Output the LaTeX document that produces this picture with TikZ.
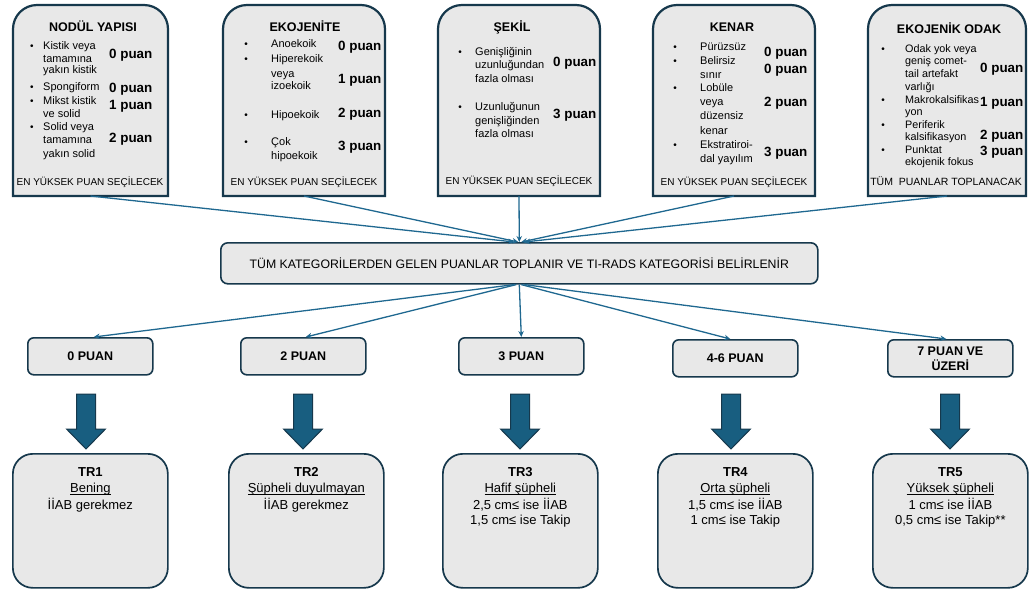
\documentclass[tikz,border=0pt]{standalone}
\usepackage{fontspec}
\setmainfont{Liberation Sans}
\usetikzlibrary{arrows.meta,calc}
\definecolor{boxfill}{RGB}{232,232,232}
\definecolor{edge}{RGB}{22,56,76}
\definecolor{link}{RGB}{31,104,144}
\definecolor{blk}{RGB}{24,94,128}
\newcommand\roundtopbox[1]{\draw[topbox] (#1.south west) -- ([yshift=-24pt]#1.north west) arc[start angle=180,end angle=90,radius=24pt] -- ([xshift=-24pt]#1.north east) arc[start angle=90,end angle=0,radius=24pt] -- (#1.south east) -- cycle;}
\newcommand\myul[1]{\setbox0\hbox{#1}\rlap{\rule[-1.9pt]{\wd0}{0.7pt}}\box0}
\begin{document}
\begin{tikzpicture}[x=1pt,y=-1pt,
  frame/.style={draw=none,inner sep=0pt,outer sep=0pt,anchor=north west},
  topbox/.style={draw=edge,fill=boxfill,line width=2.2pt},
  title/.style={font=\fontsize{12.5}{14}\selectfont\bfseries,inner sep=0pt,anchor=mid},
  body/.style={font=\fontsize{11}{13}\selectfont,inner sep=0pt,anchor=mid west},
  bodyS/.style={font=\fontsize{10.8}{12}\selectfont,inner sep=0pt,anchor=mid west},
  bul/.style={font=\fontsize{10}{13}\selectfont,inner sep=0pt,anchor=mid},
  pts/.style={font=\fontsize{13.4}{15}\selectfont\bfseries,inner sep=0pt,anchor=mid west},
  foot/.style={font=\fontsize{10}{12}\selectfont,inner sep=0pt,anchor=mid},
  bar/.style={draw=edge,fill=boxfill,line width=1.6pt,rounded corners=7pt,inner sep=0pt,anchor=north west,font=\fontsize{12.3}{14}\selectfont},
  puan/.style={draw=edge,fill=boxfill,line width=1.6pt,rounded corners=6pt,inner sep=0pt,anchor=north west,font=\fontsize{12.5}{15}\selectfont\bfseries,align=center,minimum width=125pt,minimum height=37pt},
  trbox/.style={draw=edge,fill=boxfill,line width=1.7pt,rounded corners=20pt,inner sep=0pt,anchor=north west,minimum width=155pt,minimum height=134pt},
  trtext/.style={font=\fontsize{13}{15}\selectfont,inner sep=0pt,anchor=mid},
  trhead/.style={font=\fontsize{13}{15}\selectfont\bfseries,inner sep=0pt,anchor=mid},
  conn/.style={draw=link,line width=1.3pt,-{Stealth[length=6pt,width=5.5pt]}},
  blkarrow/.style={fill=blk,draw=edge,line width=1pt},
]
\useasboundingbox (0,0) rectangle (1029,590);

% ---------- top boxes ----------
\node[frame,minimum width=155pt,minimum height=191pt] (b1) at (13,5) {};
\node[frame,minimum width=162pt,minimum height=191pt] (b2) at (223,5) {};
\node[frame,minimum width=162pt,minimum height=191pt] (b3) at (438,5) {};
\node[frame,minimum width=162pt,minimum height=191pt] (b4) at (653,5) {};
\node[frame,minimum width=158pt,minimum height=191pt] (b5) at (868,5) {};
\roundtopbox{b1}
\roundtopbox{b2}
\roundtopbox{b3}
\roundtopbox{b4}
\roundtopbox{b5}

% box 1
\node[title] (b1t) at (93,29) {NODÜL YAPISI};
\foreach \yy/\txt [count=\i] in {47/Kistik veya,60/tamamına,71/yakın kistik,88/Spongiform,102/Mikst kistik,115/ve solid,128/Solid veya,141/tamamına,155/yakın solid}
  \node[body] (b1l\i) at (43,\yy) {\txt};
\foreach \yy [count=\i] in {47,88,102,128}
  \node[bul] (b1d\i) at (32,\yy) {•};
\foreach \yy/\txt [count=\i] in {56/0,90/0,107/1,140/2}
  \node[pts] (b1p\i) at (109,\yy) {\txt{} puan};
\node[foot] (b1f) at (90,183) {EN YÜKSEK PUAN SEÇİLECEK};

% box 2
\node[title] (b2t) at (305,29) {EKOJENİTE};
\foreach \yy/\txt [count=\i] in {45/Anoekoik,60/Hiperekoik,75/veya,87/izoekoik,116/Hipoekoik,143/Çok,157/hipoekoik}
  \node[body] (b2l\i) at (271,\yy) {\txt};
\foreach \yy [count=\i] in {45,60,116,143}
  \node[bul] (b2d\i) at (246,\yy) {•};
\foreach \yy/\txt [count=\i] in {48/0,81/1,115/2,148/3}
  \node[pts] (b2p\i) at (338,\yy) {\txt{} puan};
\node[foot] (b2f) at (304,183) {EN YÜKSEK PUAN SEÇİLECEK};

% box 3
\node[title] (b3t) at (512,29) {ŞEKİL};
\foreach \yy/\txt [count=\i] in {53/Genişliğinin,66/uzunluğundan,80/fazla olması,108/Uzunluğunun,122/genişliğinden,135/fazla olması}
  \node[body] (b3l\i) at (475,\yy) {\txt};
\foreach \yy [count=\i] in {53,108}
  \node[bul] (b3d\i) at (460,\yy) {•};
\foreach \yy/\txt [count=\i] in {64/0,116/3}
  \node[pts] (b3p\i) at (553,\yy) {\txt{} puan};
\node[foot] (b3f) at (519,182) {EN YÜKSEK PUAN SEÇİLECEK};

% box 4
\node[title] (b4t) at (732,29) {KENAR};
\foreach \yy/\txt [count=\i] in {48/Pürüzsüz,62/Belirsiz,76/sınır,89/Lobüle,103/veya,117/düzensiz,132/kenar,146/Ekstratiroi-,160/dal yayılım}
  \node[body] (b4l\i) at (700,\yy) {\txt};
\foreach \yy [count=\i] in {48,62,89,146}
  \node[bul] (b4d\i) at (675,\yy) {•};
\foreach \yy/\txt [count=\i] in {54/0,71/0,104/2,154/3}
  \node[pts] (b4p\i) at (764,\yy) {\txt{} puan};
\node[foot] (b4f) at (734,183) {EN YÜKSEK PUAN SEÇİLECEK};

% box 5
\node[title] (b5t) at (949,31) {EKOJENİK ODAK};
\foreach \yy/\txt [count=\i] in {50/Odak yok veya,62/geniş comet-,75/tail artefakt,88/varlığı,101/Makrokalsifikas,113/yon,126/Periferik,138/kalsifikasyon,151/Punktat,163/ekojenik fokus}
  \node[bodyS] (b5l\i) at (905,\yy) {\txt};
\foreach \yy [count=\i] in {50,101,126,151}
  \node[bul] (b5d\i) at (883,\yy) {•};
\foreach \yy/\txt [count=\i] in {70/0,104/1,137/2,153/3}
  \node[pts] (b5p\i) at (980,\yy) {\txt{} puan};
\node[foot,font=\fontsize{10.5}{12}\selectfont] (b5f) at (946,183) {TÜM\ \ PUANLAR TOPLANACAK};

% ---------- middle bar ----------
\node[bar,minimum width=597pt,minimum height=41pt] (bar) at (220,242) {TÜM KATEGORİLERDEN GELEN PUANLAR TOPLANIR VE TI-RADS KATEGORİSİ BELİRLENİR};

\draw[conn] (b1.south) -- ([xshift=-5pt]bar.north);
\draw[conn] (b2.south) -- ([xshift=-1pt]bar.north);
\draw[conn] (b3.south) -- (bar.north);
\draw[conn] (b4.south) -- ([xshift=2pt]bar.north);
\draw[conn] (b5.south) -- ([xshift=5pt]bar.north);

% ---------- score boxes ----------
\node[puan] (p0) at (27,337) {0 PUAN};
\node[puan] (p2) at (240,337) {2 PUAN};
\node[puan] (p3) at (458,337) {3 PUAN};
\node[puan] (p46) at (672,339) {4-6 PUAN};
\node[puan] (p7) at (887,339) {7 PUAN VE\\ÜZERİ};

\draw[conn] ([xshift=-5pt]bar.south) -- ([xshift=3.5pt]p0.north);
\draw[conn] ([xshift=-3pt]bar.south) -- ([xshift=2.5pt]p2.north);
\draw[conn] (bar.south) -- (p3.north);
\draw[conn] ([xshift=2pt]bar.south) -- ([xshift=-5pt]p46.north);
\draw[conn] ([xshift=5pt]bar.south) -- ([xshift=-4pt]p7.north);

% ---------- block arrows ----------
\coordinate (a1) at (86,394);
\coordinate (a2) at (303,394);
\coordinate (a3) at (520,394);
\coordinate (a4) at (731,394);
\coordinate (a5) at (950,394);
\foreach \a in {a1,a2,a3,a4,a5}
  \draw[blkarrow] ($(\a)+(-9.5,0)$) -- ++(19,0) -- ++(0,35) -- ++(10,0) -- ++(-19.5,20) -- ++(-19.5,-20) -- ++(10,0) -- cycle;

% ---------- TR boxes ----------
\node[trbox] (tr1) at (12,453) {};
\node[trbox] (tr2) at (228,453) {};
\node[trbox] (tr3) at (442,453) {};
\node[trbox] (tr4) at (657,453) {};
\node[trbox] (tr5) at (872,453) {};

\node[trhead] (tr1a) at ($(tr1.north)+(0,21)$) {TR1};
\node[trtext] (tr1b) at ($(tr1.north)+(0,37)$) {\myul{Bening}};
\node[trtext] (tr1c) at ($(tr1.north)+(0,54)$) {İİAB gerekmez};

\node[trhead] (tr2a) at ($(tr2.north)+(0,21)$) {TR2};
\node[trtext] (tr2b) at ($(tr2.north)+(0,37)$) {\myul{Şüpheli duyulmayan}};
\node[trtext] (tr2c) at ($(tr2.north)+(0,54)$) {İİAB gerekmez};

\node[trhead] (tr3a) at ($(tr3.north)+(0,21)$) {TR3};
\node[trtext] (tr3b) at ($(tr3.north)+(0,37)$) {\myul{Hafif şüpheli}};
\node[trtext] (tr3c) at ($(tr3.north)+(0,54)$) {2,5 cm≤ ise İİAB};
\node[trtext] (tr3d) at ($(tr3.north)+(0,69)$) {1,5 cm≤ ise Takip};

\node[trhead] (tr4a) at ($(tr4.north)+(0,21)$) {TR4};
\node[trtext] (tr4b) at ($(tr4.north)+(0,37)$) {\myul{Orta şüpheli}};
\node[trtext] (tr4c) at ($(tr4.north)+(0,54)$) {1,5 cm≤ ise İİAB};
\node[trtext] (tr4d) at ($(tr4.north)+(0,69)$) {1 cm≤ ise Takip};

\node[trhead] (tr5a) at ($(tr5.north)+(0,21)$) {TR5};
\node[trtext] (tr5b) at ($(tr5.north)+(0,37)$) {\myul{Yüksek şüpheli}};
\node[trtext] (tr5c) at ($(tr5.north)+(0,54)$) {1 cm≤ ise İİAB};
\node[trtext] (tr5d) at ($(tr5.north)+(0,69)$) {0,5 cm≤ ise Takip**};
\end{tikzpicture}
\end{document}
